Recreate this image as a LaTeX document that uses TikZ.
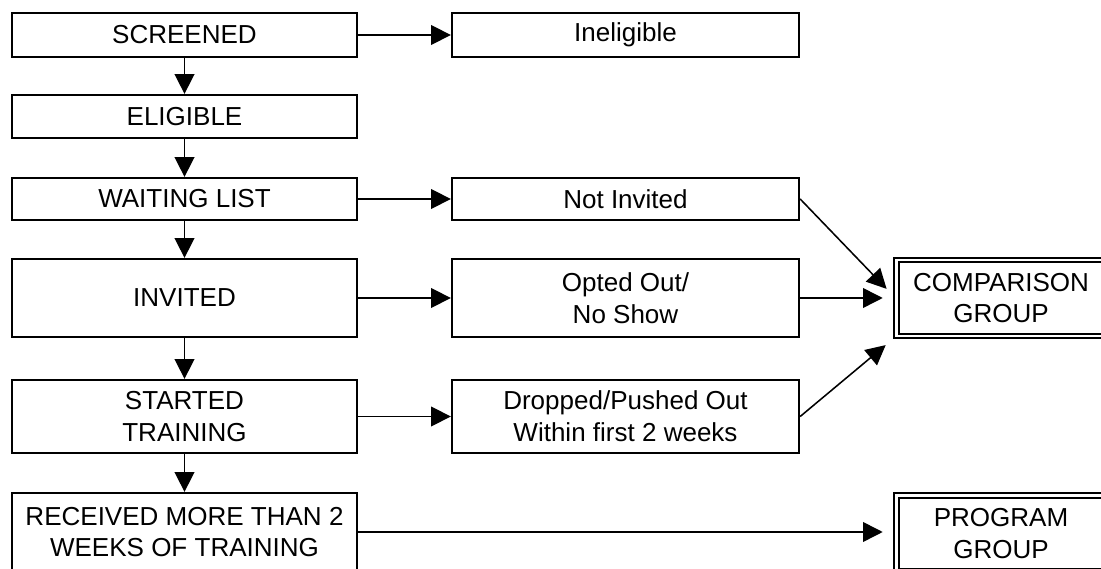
\documentclass[tikz,border=0pt]{standalone}
\usepackage{fontspec}
\setmainfont{Liberation Sans}
\usetikzlibrary{arrows.meta}

\begin{document}
\begin{tikzpicture}[x=0.025cm, y=-0.025cm,
    stage/.style={draw, line width=1.6pt, align=center, inner sep=0pt,
        font=\fontsize{18.5}{22.5}\selectfont},
    leftbox/.style={stage, minimum width=8.625cm},
    rightbox/.style={stage, minimum width=8.675cm},
    groupbox/.style={stage, double=white, line width=1.4pt, double distance=2pt,
        minimum width=5.23cm, minimum height=1.9cm},
    arr/.style={line width=1.1pt, -{Triangle[length=14pt, width=14pt]}}]
\useasboundingbox (0,0) rectangle (1101,569);
% main column
\node[leftbox, minimum height=1.1cm] (screened) at (184.5,35) {SCREENED};
\node[leftbox, minimum height=1.075cm] (eligible) at (184.5,116.5) {ELIGIBLE};
\node[leftbox, minimum height=1.05cm] (waiting) at (184.5,199) {WAITING LIST};
\node[leftbox, minimum height=1.95cm] (invited) at (184.5,298) {INVITED};
\node[leftbox, minimum height=1.825cm] (started) at (184.5,416.5) {STARTED\\TRAINING};
\node[leftbox, minimum height=1.95cm] (received) at (184.5,532) {RECEIVED MORE THAN 2\\WEEKS OF TRAINING};
% side column
\node[rightbox, minimum height=1.1cm] (ineligible) at (625.5,35) {Ineligible};
\node[rightbox, minimum height=1.05cm] (notinvited) at (625.5,199) {Not Invited};
\node[rightbox, minimum height=1.95cm] (optedout) at (625.5,298) {Opted Out/\\No Show};
\node[rightbox, minimum height=1.825cm] (dropped) at (625.5,416.5) {Dropped/Pushed Out\\Within first 2 weeks};
% groups
\node[groupbox] (comparison) at (1001,298) {COMPARISON\\GROUP};
\node[groupbox] (program) at (1001,533.4) {PROGRAM\\GROUP};

\draw[arr] (screened) -- (eligible);
\draw[arr] (eligible) -- (waiting);
\draw[arr] (waiting) -- (invited);
\draw[arr] (invited) -- (started);
\draw[arr] (started) -- (received);

\draw[arr] (screened) -- (ineligible);
\draw[arr] (waiting) -- (notinvited);
\draw[arr] (invited) -- (optedout);
\draw[arr] (started) -- (dropped);

\draw[arr, shorten >=9pt] (notinvited.east) -- (comparison.west);
\draw[arr, shorten >=9pt] (optedout.east) -- (comparison.west);
\draw[arr, shorten >=9pt] (dropped.east) -- (comparison.south west);
\draw[arr, shorten >=9pt] (received.east) -- (received.east -| program.west);
\end{tikzpicture}
\end{document}
